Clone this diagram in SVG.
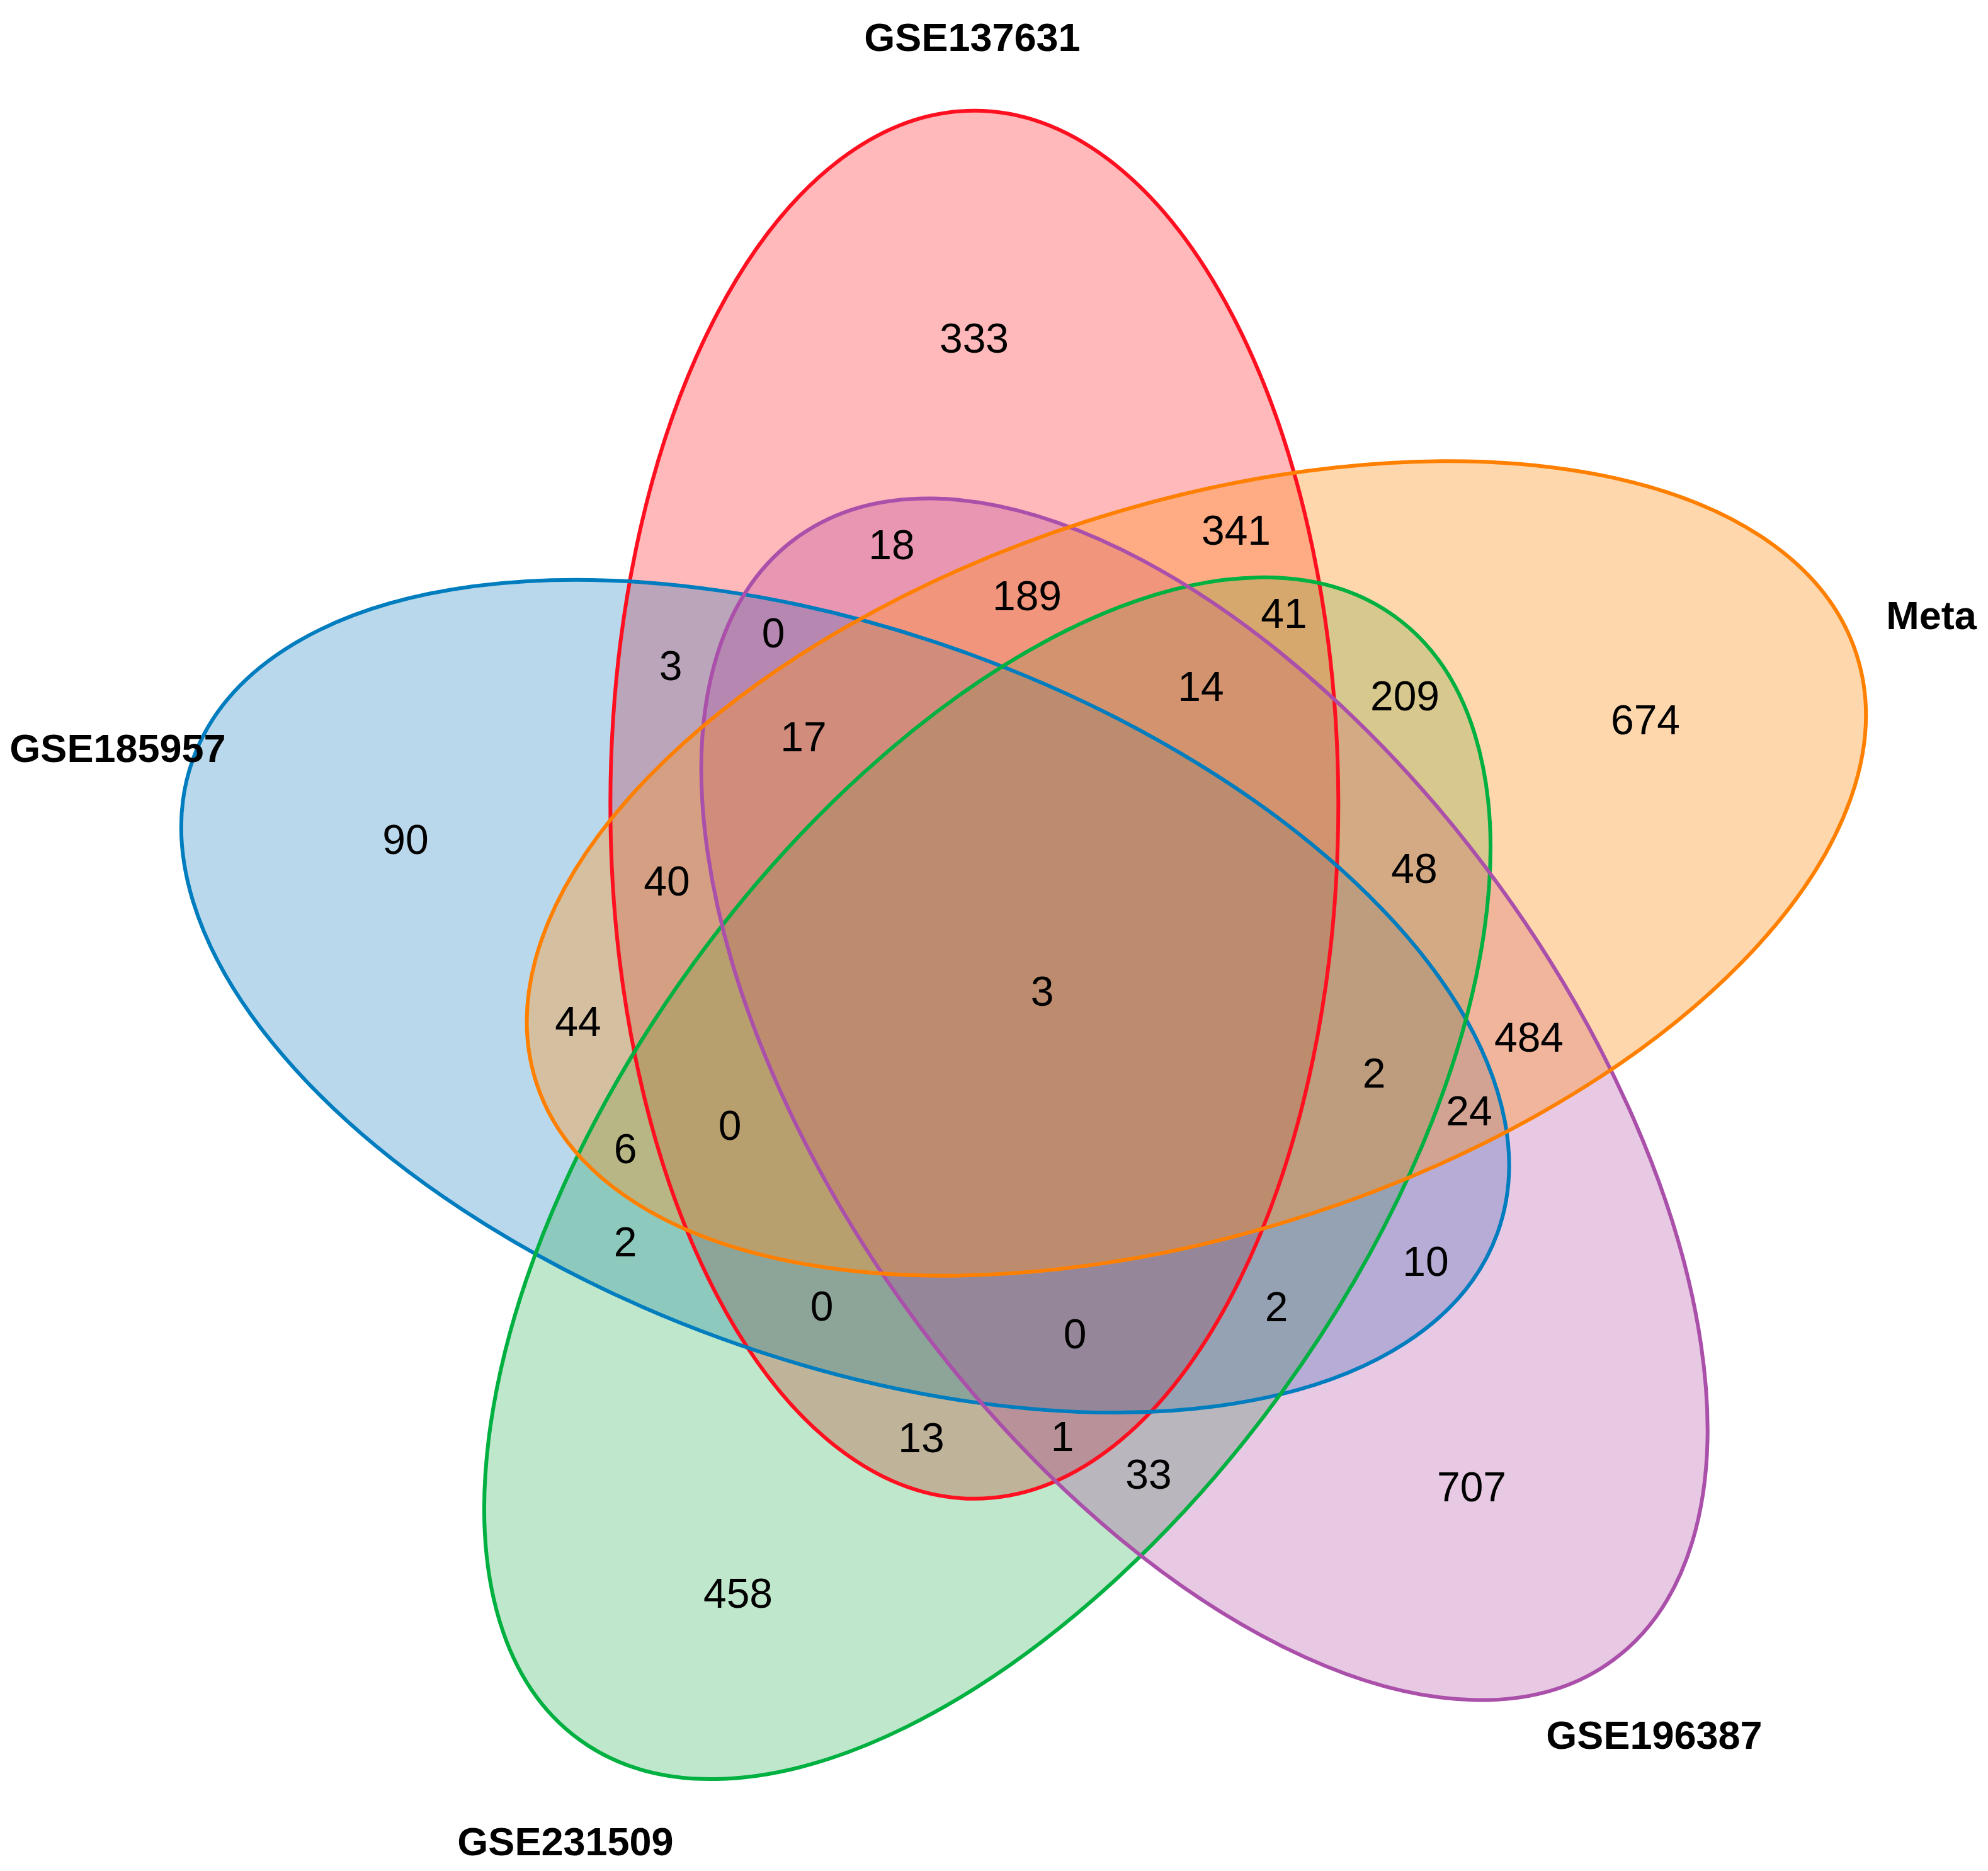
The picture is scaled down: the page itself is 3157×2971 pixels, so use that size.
<svg xmlns="http://www.w3.org/2000/svg" xmlns:xlink="http://www.w3.org/1999/xlink" width="3157" height="2971" viewBox="0 0 3157 2971">
<defs>
<style>
.fill{fill-opacity:0.275;stroke:none}
.outline{fill:none;stroke-width:6}
.lab{font-family:"Liberation Sans",Arial,Helvetica,sans-serif;font-weight:bold;font-size:63px;fill:#000;text-anchor:middle}
.num{font-family:"Liberation Sans",Arial,Helvetica,sans-serif;font-size:66px;fill:#000;text-anchor:middle}
</style>
<ellipse id="base" cx="1547.3" cy="1277.8" rx="578" ry="1102"/>
</defs>
<rect x="0" y="0" width="3157" height="2971" fill="#ffffff"/>
<g id="fills">
<use xlink:href="#base" href="#base" class="fill" fill="#FF0008"/>
<use xlink:href="#base" href="#base" class="fill" fill="#0471BA" transform="rotate(2 1342.2 1581.9) rotate(-72 1654 1571)"/>
<use xlink:href="#base" href="#base" class="fill" fill="#16A842" transform="rotate(-144 1654 1571)"/>
<use xlink:href="#base" href="#base" class="fill" fill="#AB3B99" transform="rotate(-216 1654 1571)"/>
<use xlink:href="#base" href="#base" class="fill" fill="#FF9628" style="fill-opacity:0.38" transform="rotate(72 1654 1571)"/>
</g>
<g id="set-GSE137631">
<use xlink:href="#base" href="#base" class="outline" stroke="#FF1020"/>
<text class="lab" x="1544" y="81">GSE137631</text>
</g>
<g id="set-GSE185957">
<use xlink:href="#base" href="#base" class="outline" stroke="#007DBF" transform="rotate(2 1342.2 1581.9) rotate(-72 1654 1571)"/>
<text class="lab" x="187" y="1210">GSE185957</text>
</g>
<g id="set-GSE231509">
<use xlink:href="#base" href="#base" class="outline" stroke="#00B040" transform="rotate(-144 1654 1571)"/>
<text class="lab" x="898" y="2946">GSE231509</text>
</g>
<g id="set-GSE196387">
<use xlink:href="#base" href="#base" class="outline" stroke="#AA50AA" transform="rotate(-216 1654 1571)"/>
<text class="lab" x="2627" y="2777">GSE196387</text>
</g>
<g id="set-Meta">
<use xlink:href="#base" href="#base" class="outline" stroke="#FF8000" transform="rotate(72 1654 1571)"/>
<text class="lab" x="3067" y="999">Meta</text>
</g>
<g id="connectors"></g>
<g id="counts">
<text class="num" x="1547" y="560">333</text>
<text class="num" x="1416" y="888">18</text>
<text class="num" x="1963" y="865">341</text>
<text class="num" x="1631" y="969">189</text>
<text class="num" x="2039" y="997">41</text>
<text class="num" x="1228" y="1028">0</text>
<text class="num" x="1065" y="1080">3</text>
<text class="num" x="1907" y="1113">14</text>
<text class="num" x="2231" y="1128">209</text>
<text class="num" x="2613" y="1166">674</text>
<text class="num" x="1276" y="1193">17</text>
<text class="num" x="644" y="1356">90</text>
<text class="num" x="1059" y="1422">40</text>
<text class="num" x="2246" y="1402">48</text>
<text class="num" x="1655" y="1597">3</text>
<text class="num" x="918" y="1645">44</text>
<text class="num" x="2428" y="1670">484</text>
<text class="num" x="2182" y="1727">2</text>
<text class="num" x="2333" y="1787">24</text>
<text class="num" x="1159" y="1810">0</text>
<text class="num" x="993" y="1847">6</text>
<text class="num" x="993" y="1995">2</text>
<text class="num" x="2264" y="2026">10</text>
<text class="num" x="1305" y="2097">0</text>
<text class="num" x="2027" y="2098">2</text>
<text class="num" x="1707" y="2141">0</text>
<text class="num" x="1463" y="2306">13</text>
<text class="num" x="1687" y="2304">1</text>
<text class="num" x="1824" y="2364">33</text>
<text class="num" x="2337" y="2384">707</text>
<text class="num" x="1172" y="2553">458</text>
</g>
</svg>
